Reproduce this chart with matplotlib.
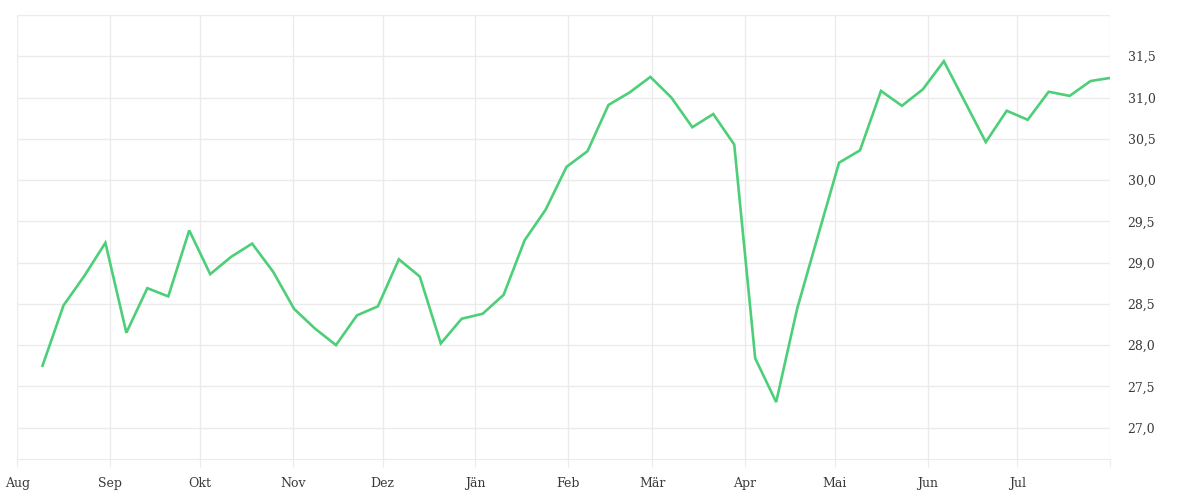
import numpy as np
import matplotlib
matplotlib.use("Agg")
import matplotlib.pyplot as plt
import matplotlib.dates as mdates
from matplotlib.ticker import FixedLocator, FuncFormatter

# weekly values, Aug 2022 - Aug 2023
start = np.datetime64("2022-08-09T10")
values = [27.75, 28.48, 28.84, 29.24, 28.15, 28.69, 28.59, 29.39, 28.86, 29.07,
          29.23, 28.89, 28.44, 28.20, 28.00, 28.36, 28.47, 29.04, 28.83, 28.02,
          28.32, 28.38, 28.61, 29.27, 29.64, 30.16, 30.35, 30.91, 31.06, 31.25,
          31.00, 30.64, 30.80, 30.43, 27.84, 27.31, 28.44, 29.33, 30.21, 30.36,
          31.08, 30.90, 31.10, 31.44, 30.95, 30.46, 30.84, 30.73, 31.07, 31.02,
          31.20, 31.24]
dates = start + np.arange(len(values)) * np.timedelta64(7 * 24, "h")

month_starts = np.arange(np.datetime64("2022-08"), np.datetime64("2023-09"),
                         np.timedelta64(1, "M")).astype("datetime64[D]")
month_labels = ["Aug", "Sep", "Okt", "Nov", "Dez", "Jän", "Feb", "Mär",
                "Apr", "Mai", "Jun", "Jul", ""]
y_ticks = [27.0, 27.5, 28.0, 28.5, 29.0, 29.5, 30.0, 30.5, 31.0, 31.5, 32.0]

grid_col = "#ebebeb"
text_col = "#3a3a3a"

fig = plt.figure(figsize=(12, 5), dpi=100)
ax = fig.add_axes([17.3 / 1200, 41 / 500, 1093 / 1200, 444 / 500])

ax.plot(dates.astype("datetime64[ms]").astype(object), values,
        color="#4ccf78", lw=1.9, solid_joinstyle="miter")

ax.set_xlim(mdates.date2num(month_starts[0].astype(object)),
            mdates.date2num(month_starts[-1].astype(object)))
ax.set_ylim(26.62, 32.0)

ax.xaxis.set_major_locator(FixedLocator(mdates.date2num(month_starts.astype(object))))
ax.set_xticklabels(month_labels)
ax.yaxis.set_major_locator(FixedLocator(y_ticks))
ax.yaxis.set_major_formatter(FuncFormatter(
    lambda v, p: "" if v >= 31.99 else f"{v:.1f}".replace(".", ",")))

ax.yaxis.tick_right()
ax.grid(True, color=grid_col, lw=1)
ax.set_axisbelow(True)
for s in ["top", "left", "right"]:
    ax.spines[s].set_visible(False)
ax.spines["bottom"].set_color(grid_col)

ax.tick_params(axis="x", length=6, color=grid_col, pad=7,
               labelsize=9, labelcolor=text_col)
ax.tick_params(axis="y", length=0, pad=12.5, labelsize=9, labelcolor=text_col)
for lab in ax.get_xticklabels() + ax.get_yticklabels():
    lab.set_fontfamily("DejaVu Serif")

fig.savefig("out.png", dpi=100, facecolor="white")
